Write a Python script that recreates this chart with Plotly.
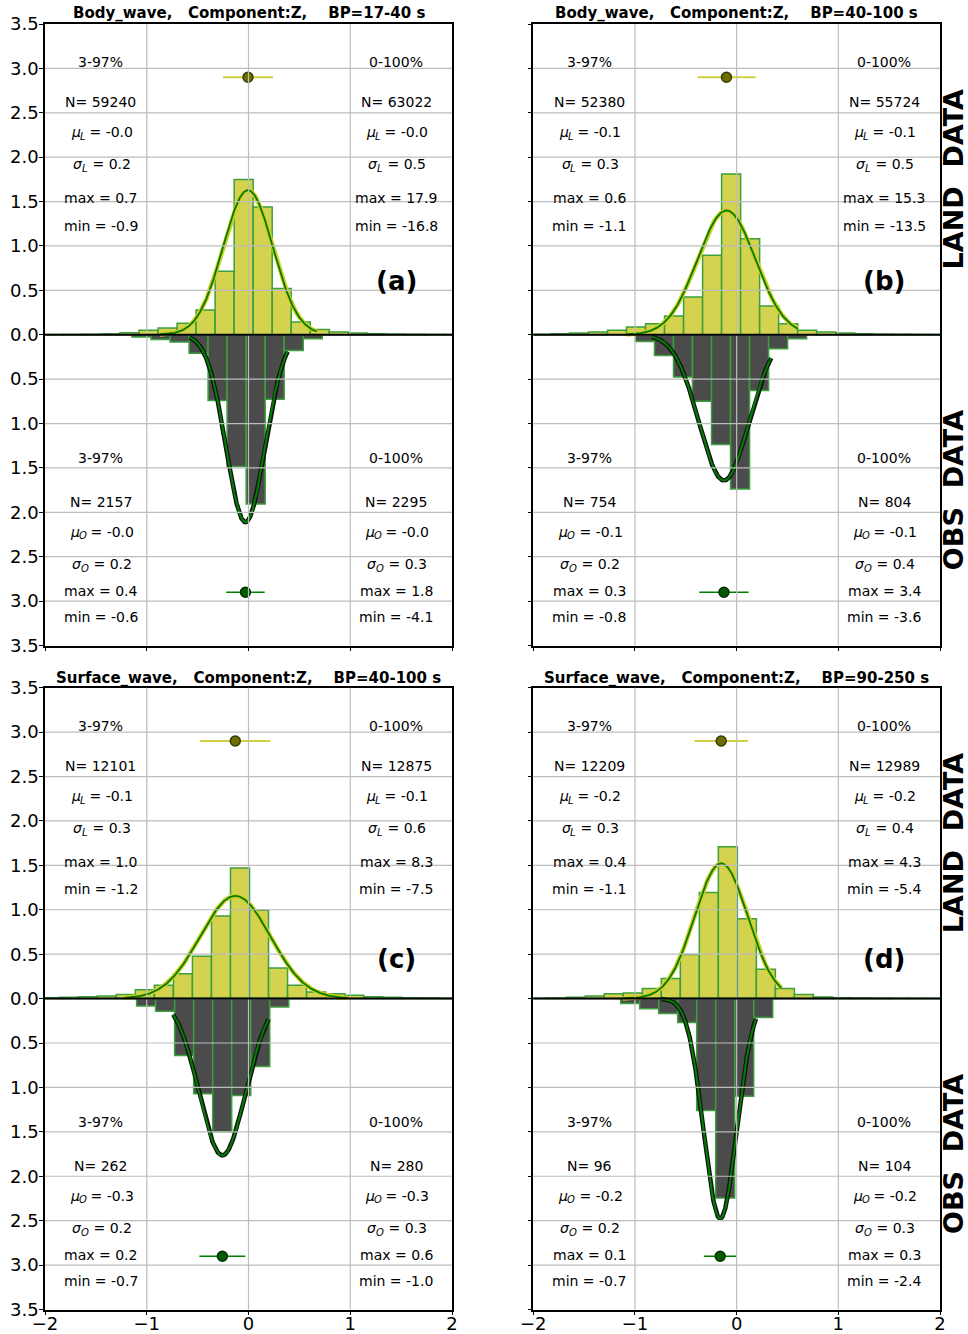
import numpy as np
import plotly.graph_objects as go

# ---------------------------------------------------------------- data
panel_tags = ["(a)", "(b)", "(c)", "(d)"]
titles = [
    "Body_wave,   Component:Z,    BP=17-40 s",
    "Body_wave,   Component:Z,    BP=40-100 s",
    "Surface_wave,   Component:Z,    BP=40-100 s",
    "Surface_wave,   Component:Z,    BP=90-250 s",
]

bin_width = 0.187

# LAND histograms (density), left edge of first bin and bin heights
land_bin_start = [-2.011, -2.018, -2.047, -2.050]
land_heights = [
    [0.003, 0.004, 0.006, 0.010, 0.023, 0.050, 0.075, 0.130, 0.280, 0.714, 1.750,
     1.440, 0.520, 0.143, 0.060, 0.030, 0.019, 0.012, 0.008, 0.005, 0.004, 0.003],
    [0.005, 0.010, 0.019, 0.030, 0.050, 0.087, 0.124, 0.210, 0.425, 0.895, 1.810,
     1.080, 0.323, 0.124, 0.050, 0.030, 0.020, 0.012, 0.008, 0.006, 0.004, 0.003],
    [0.010, 0.015, 0.020, 0.030, 0.045, 0.100, 0.150, 0.280, 0.477, 0.930, 1.470,
     0.995, 0.345, 0.150, 0.075, 0.056, 0.038, 0.022, 0.015, 0.010, 0.008, 0.005],
    [0.004, 0.008, 0.015, 0.030, 0.056, 0.064, 0.113, 0.225, 0.496, 1.194, 1.709,
     0.900, 0.330, 0.113, 0.045, 0.019, 0.010, 0.006, 0.005, 0.004, 0.003, 0.002],
]

# OBS histograms (density)
obs_bin_start = [-1.145, -0.995, -1.100, -1.141]
obs_heights = [
    [0.026, 0.053, 0.083, 0.207, 0.740, 1.485, 1.906, 0.726, 0.177, 0.045],
    [0.075, 0.233, 0.477, 0.748, 1.237, 1.737, 0.628, 0.158, 0.045],
    [0.083, 0.143, 0.640, 1.070, 1.500, 1.090, 0.763, 0.094],
    [0.056, 0.113, 0.169, 0.270, 1.260, 2.244, 1.100, 0.214],
]

# 3-97% statistics
land_mu = [-0.005, -0.100, -0.130, -0.152]
land_sigma = [0.245, 0.285, 0.345, 0.262]
land_lo = [-0.87, -1.08, -1.22, -1.12]
land_hi = [0.67, 0.60, 0.98, 0.44]
land_n97 = [59240, 52380, 12101, 12209]
land_max97 = [0.7, 0.6, 1.0, 0.4]
land_min97 = [-0.9, -1.1, -1.2, -1.1]

obs_mu = [-0.030, -0.125, -0.257, -0.162]
obs_sigma = [0.189, 0.243, 0.226, 0.161]
obs_lo = [-0.58, -0.83, -0.74, -0.74]
obs_hi = [0.385, 0.34, 0.198, 0.19]
obs_n97 = [2157, 754, 262, 96]
obs_max97 = [0.4, 0.3, 0.2, 0.1]
obs_min97 = [-0.6, -0.8, -0.7, -0.7]

# 0-100% statistics
land_n100 = [63022, 55724, 12875, 12989]
land_mu100 = [-0.0, -0.1, -0.1, -0.2]
land_sigma100 = [0.5, 0.5, 0.6, 0.4]
land_max100 = [17.9, 15.3, 8.3, 4.3]
land_min100 = [-16.8, -13.5, -7.5, -5.4]

obs_n100 = [2295, 804, 280, 104]
obs_mu100 = [-0.0, -0.1, -0.3, -0.2]
obs_sigma100 = [0.3, 0.4, 0.3, 0.3]
obs_max100 = [1.8, 3.4, 0.6, 0.3]
obs_min100 = [-4.1, -3.6, -1.0, -2.4]

y_ticks = [-3.5, -3.0, -2.5, -2.0, -1.5, -1.0, -0.5, 0.0, 0.5, 1.0, 1.5, 2.0, 2.5, 3.0, 3.5]
x_ticks = [-2, -1, 0, 1, 2]

# ---------------------------------------------------------------- style
W, H = 968, 1334
FONT = "DejaVu Sans"
TXT = 14          # statistics text size
SUB = 10          # subscript size
LAND_FILL = "#d3d34f"
OBS_FILL = "#4b4b4b"
BAR_EDGE = "#3c9e3c"
GRID = "#bdbdbd"

X_DOM = [[45 / W, 452 / W], [533.3 / W, 940 / W]] * 2
Y_DOM = [[1 - 645.5 / H, 1 - 24 / H]] * 2 + [[1 - 1309.5 / H, 1 - 687.7 / H]] * 2
TITLE_Y = [1 - 13 / H, 1 - 13 / H, 1 - 677.5 / H, 1 - 677.5 / H]
TAG_Y = [0.60, 0.60, 0.45, 0.45]
TOP_TEXT_Y = [3.07, 2.62, 2.28, 1.92, 1.54, 1.23]
BOT_TEXT_Y = [-1.39, -1.885, -2.22, -2.585, -2.89, -3.18]
COL_X = [-1.45, 1.45]
POINT_Y = 2.9

# approximate DejaVu Sans advance widths (em) used to lay out symbol lines
CHAR_W = {**{d: 0.636 for d in "0123456789"}, ".": 0.318, "-": 0.361, "=": 0.838,
          "\u00a0": 0.318, "μ": 0.636, "σ": 0.634, "L": 0.557, "O": 0.787}


def str_w(s, size):
    return sum(CHAR_W[c] for c in s) * size


def pdf(x, mu, sd):
    return np.exp(-0.5 * ((x - mu) / sd) ** 2) / (sd * np.sqrt(2 * np.pi))


def nb(s):
    return s.replace(" ", "\u00a0")


fig = go.Figure()
shapes = []
annotations = []


def add_text(xa, ya, x, y, s, xshift=0, yshift=0, size=TXT, xanchor="center"):
    annotations.append(dict(xref=xa, yref=ya, x=x, y=y, text=s, showarrow=False,
                            xanchor=xanchor, yanchor="middle", xshift=xshift, yshift=yshift,
                            borderpad=0, font=dict(family=FONT, size=size, color="black")))


def add_symbol_line(xa, ya, x, y, letter, idx, value):
    """Draws e.g. mu_L = -0.1 centred on (x, y) with a lowered subscript."""
    rest = nb(f" = {value:.1f}")
    w_sym = str_w(letter, TXT)
    w_sub = str_w(idx, SUB)
    w_rest = str_w(rest, TXT)
    left = -(w_sym + w_sub + w_rest) / 2
    add_text(xa, ya, x, y, f"<i>{letter}</i>", xshift=left, xanchor="left")
    add_text(xa, ya, x, y, f"<i>{idx}</i>", xshift=left + w_sym, yshift=-4, size=SUB, xanchor="left")
    add_text(xa, ya, x, y, rest, xshift=left + w_sym + w_sub, xanchor="left")


for i in range(4):
    xa = "x" if i == 0 else f"x{i + 1}"
    ya = "y" if i == 0 else f"y{i + 1}"

    # histograms
    lc = [land_bin_start[i] + bin_width * (k + 0.5) for k in range(len(land_heights[i]))]
    fig.add_trace(go.Bar(x=lc, y=land_heights[i], width=bin_width, xaxis=xa, yaxis=ya,
                         marker=dict(color=LAND_FILL, line=dict(color=BAR_EDGE, width=1.5)),
                         showlegend=False, hoverinfo="skip"))
    oc = [obs_bin_start[i] + bin_width * (k + 0.5) for k in range(len(obs_heights[i]))]
    fig.add_trace(go.Bar(x=oc, y=[-h for h in obs_heights[i]], width=bin_width, xaxis=xa, yaxis=ya,
                         marker=dict(color=OBS_FILL, line=dict(color=BAR_EDGE, width=1.5)),
                         showlegend=False, hoverinfo="skip"))

    # fitted normal curves over the 3-97% data range
    xs = np.linspace(land_lo[i], land_hi[i], 300)
    ys = pdf(xs, land_mu[i], land_sigma[i])
    fig.add_trace(go.Scatter(x=xs, y=ys, mode="lines", line=dict(color="#cfcf22", width=4.5),
                             xaxis=xa, yaxis=ya, showlegend=False, hoverinfo="skip"))
    fig.add_trace(go.Scatter(x=xs, y=ys, mode="lines", line=dict(color="#007a00", width=1.8),
                             xaxis=xa, yaxis=ya, showlegend=False, hoverinfo="skip"))

    xs = np.linspace(obs_lo[i], obs_hi[i], 300)
    ys = -pdf(xs, obs_mu[i], obs_sigma[i])
    fig.add_trace(go.Scatter(x=xs, y=ys, mode="lines", line=dict(color="#111111", width=4.5),
                             xaxis=xa, yaxis=ya, showlegend=False, hoverinfo="skip"))
    fig.add_trace(go.Scatter(x=xs, y=ys, mode="lines", line=dict(color="#008000", width=2),
                             xaxis=xa, yaxis=ya, showlegend=False, hoverinfo="skip"))

    # mean +/- sigma markers
    fig.add_trace(go.Scatter(x=[land_mu[i]], y=[POINT_Y], mode="markers", xaxis=xa, yaxis=ya,
                             marker=dict(size=10, color="#6e6e00", line=dict(color="#3a3a00", width=1.5)),
                             error_x=dict(type="data", array=[land_sigma[i]], color="#d0d040",
                                          thickness=2, width=0),
                             showlegend=False, hoverinfo="skip"))
    fig.add_trace(go.Scatter(x=[obs_mu[i]], y=[-POINT_Y], mode="markers", xaxis=xa, yaxis=ya,
                             marker=dict(size=10, color="#005a00", line=dict(color="#003000", width=1.5)),
                             error_x=dict(type="data", array=[obs_sigma[i]], color="#008000",
                                          thickness=1.6, width=0),
                             showlegend=False, hoverinfo="skip"))

    # grid drawn over the bars
    for v in x_ticks[1:-1]:
        shapes.append(dict(type="line", xref=xa, yref=f"{ya} domain", x0=v, x1=v, y0=0, y1=1,
                           line=dict(color=GRID, width=1.2), layer="above"))
    for v in y_ticks[1:-1]:
        shapes.append(dict(type="line", xref=f"{xa} domain", yref=ya, x0=0, x1=1, y0=v, y1=v,
                           line=dict(color=GRID, width=1.2), layer="above"))
    shapes.append(dict(type="line", xref=f"{xa} domain", yref=ya, x0=0, x1=1, y0=0, y1=0,
                       line=dict(color="black", width=2), layer="above"))

    # axes
    fig.update_layout({
        f"xaxis{'' if i == 0 else i + 1}": dict(
            domain=X_DOM[i], anchor=ya, range=[-2, 2], tickvals=x_ticks,
            showticklabels=i >= 2, showgrid=False, zeroline=False, automargin=False,
            showline=True, mirror=True, linecolor="black", linewidth=1.5,
            ticks="outside", ticklen=4, tickwidth=1.2, tickcolor="black",
            ticklabelstandoff=-7,
            tickfont=dict(family=FONT, size=18, color="black")),
        f"yaxis{'' if i == 0 else i + 1}": dict(
            domain=Y_DOM[i], anchor=xa, range=[-3.5, 3.5], tickvals=y_ticks,
            ticktext=[f"{abs(v):.1f}" for v in y_ticks],
            showticklabels=i % 2 == 0, showgrid=False, zeroline=False, automargin=False,
            showline=True, mirror=True, linecolor="black", linewidth=1.5,
            ticks="outside", ticklen=4, tickwidth=1.2, tickcolor="black",
            ticklabelstandoff=-3,
            tickfont=dict(family=FONT, size=18, color="black")),
    })

    # statistics text: 3-97% (left column) and 0-100% (right column)
    land_stats = [
        (land_n97[i], land_mu[i], land_sigma[i], land_max97[i], land_min97[i], "3-97%"),
        (land_n100[i], land_mu100[i], land_sigma100[i], land_max100[i], land_min100[i], "0-100%"),
    ]
    obs_stats = [
        (obs_n97[i], obs_mu[i], obs_sigma[i], obs_max97[i], obs_min97[i], "3-97%"),
        (obs_n100[i], obs_mu100[i], obs_sigma100[i], obs_max100[i], obs_min100[i], "0-100%"),
    ]
    for c in range(2):
        for stats, rows_y, idx in [(land_stats[c], TOP_TEXT_Y, "L"), (obs_stats[c], BOT_TEXT_Y, "O")]:
            n, mu, sd, mx, mn, head = stats
            add_text(xa, ya, COL_X[c], rows_y[0], head)
            add_text(xa, ya, COL_X[c], rows_y[1], f"N= {n}")
            add_symbol_line(xa, ya, COL_X[c], rows_y[2], "μ", idx, mu)
            add_symbol_line(xa, ya, COL_X[c], rows_y[3], "σ", idx, sd)
            add_text(xa, ya, COL_X[c], rows_y[4], f"max = {mx:.1f}")
            add_text(xa, ya, COL_X[c], rows_y[5], f"min = {mn:.1f}")

    # panel tag and title
    annotations.append(dict(xref=xa, yref=ya, x=COL_X[1], y=TAG_Y[i], text=f"<b>{panel_tags[i]}</b>",
                            showarrow=False, xanchor="center", yanchor="middle",
                            font=dict(family=FONT, size=26, color="black")))
    annotations.append(dict(xref=f"{xa} domain", yref="paper", x=0.5, y=TITLE_Y[i],
                            text=f"<b>{nb(titles[i])}</b>", showarrow=False,
                            xanchor="center", yanchor="middle",
                            font=dict(family=FONT, size=15, color="black")))

    # side labels on the right column
    if i % 2 == 1:
        for yv, lab in [(1.75, "LAND  DATA"), (-1.75, "OBS  DATA")]:
            annotations.append(dict(xref="paper", yref=ya, x=953 / W, y=yv, text=f"<b>{nb(lab)}</b>",
                                    showarrow=False, textangle=-90, xanchor="center", yanchor="middle",
                                    font=dict(family=FONT, size=27, color="black")))

fig.update_layout(
    template="none",
    width=W, height=H, margin=dict(l=0, r=0, t=0, b=0, pad=0, autoexpand=False),
    paper_bgcolor="white", plot_bgcolor="white",
    barmode="overlay", showlegend=False,
    shapes=shapes, annotations=annotations,
)

fig.write_html("out.html")
